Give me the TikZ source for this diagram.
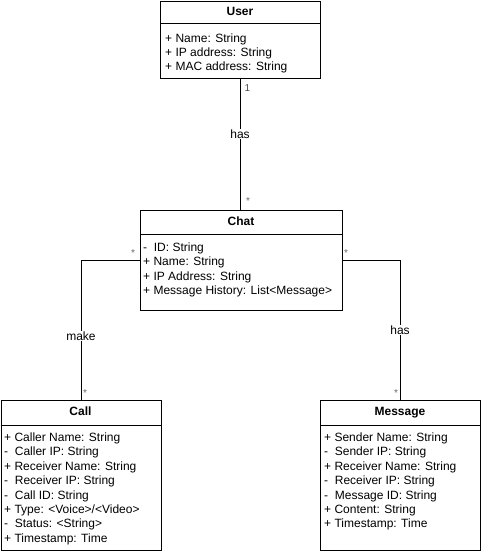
\documentclass[tikz,border=0pt]{standalone}
\usepackage{fontspec}
\setmainfont{Liberation Sans}
\begin{document}
\begin{tikzpicture}[x=1pt,y=-1pt,
  every node/.style={font=\fontsize{12}{14.4}\selectfont},
  classbox/.style={draw=black, line width=1pt, fill=white, anchor=north west, inner sep=0pt},
  title/.style={font=\fontsize{12}{14.4}\selectfont\bfseries, anchor=base, inner sep=0pt},
  attrs/.style={align=left, anchor=base west, inner sep=0pt},
  conn/.style={draw=black, line width=1pt},
  rel/.style={fill=white, inner sep=1pt},
  mult/.style={text=black!60, font=\fontsize{10}{12}\selectfont, inner sep=0pt}]
\useasboundingbox (0,0) rectangle (481,551);
% boxes
\node[classbox, minimum width=160pt, minimum height=77pt] (user) at (160,1) {};
\node[classbox, minimum width=202pt, minimum height=100pt] (chat) at (140,210) {};
\node[classbox, minimum width=160pt, minimum height=150pt] (call) at (0.5,400) {};
\node[classbox, minimum width=160pt, minimum height=150pt] (msg) at (320,400) {};
% header separators
\draw[conn] (160,24) -- (320,24);
\draw[conn] (140,234) -- (342,234);
\draw[conn] (0.5,425) -- (160.5,425);
\draw[conn] (320,425) -- (480,425);
% titles
\node[title] (usert) at (240,15.5) {User};
\node[title] (chatt) at (241,225.5) {Chat};
\node[title] (callt) at (80.5,415) {Call};
\node[title] (msgt) at (400,415) {Message};
% attributes (anchor = baseline of the last line)
\node[attrs] (usera) at (165,70.8) {+ Name: String\\+ IP address: String\\+ MAC address: String};
\node[attrs] (chata) at (143,294.7) {-\ \ ID: String\\+ Name: String\\+ IP Address: String\\+ Message History: List<Message>};
\node[attrs] (calla) at (4,542.3) {+ Caller Name: String\\-\ \ Caller IP: String\\+ Receiver Name: String\\-\ \ Receiver IP: String\\-\ \ Call ID: String\\+ Type: <Voice>/<Video>\\-\ \ Status: <String>\\+ Timestamp: Time};
\node[attrs] (msga) at (324,527.9) {+ Sender Name: String\\-\ \ Sender IP: String\\+ Receiver Name: String\\-\ \ Receiver IP: String\\-\ \ Message ID: String\\+ Content: String\\+ Timestamp: Time};
% connectors
\coordinate (c1) at (81,260);
\coordinate (c2) at (400,260);
\draw[conn] (user.south) -- (chat.north -| user.south);
\draw[conn] (chat.west |- c1) -- (c1) -- (c1 |- call.north);
\draw[conn] (chat.east |- c2) -- (c2) -- (c2 |- msg.north);
% relation labels
\node[rel] (has1) at (240,134) {has};
\node[rel] (make) at (81,336) {make};
\node[rel] (has2) at (400,330) {has};
% multiplicities
\node[mult, text=black!70] (m1) at (247.5,88) {1};
\node[mult] (m2) at (248,201) {*};
\node[mult] (m3) at (133,253) {*};
\node[mult] (m4) at (85,393) {*};
\node[mult] (m5) at (346,253) {*};
\node[mult] (m6) at (396,393) {*};
\end{tikzpicture}
\end{document}
